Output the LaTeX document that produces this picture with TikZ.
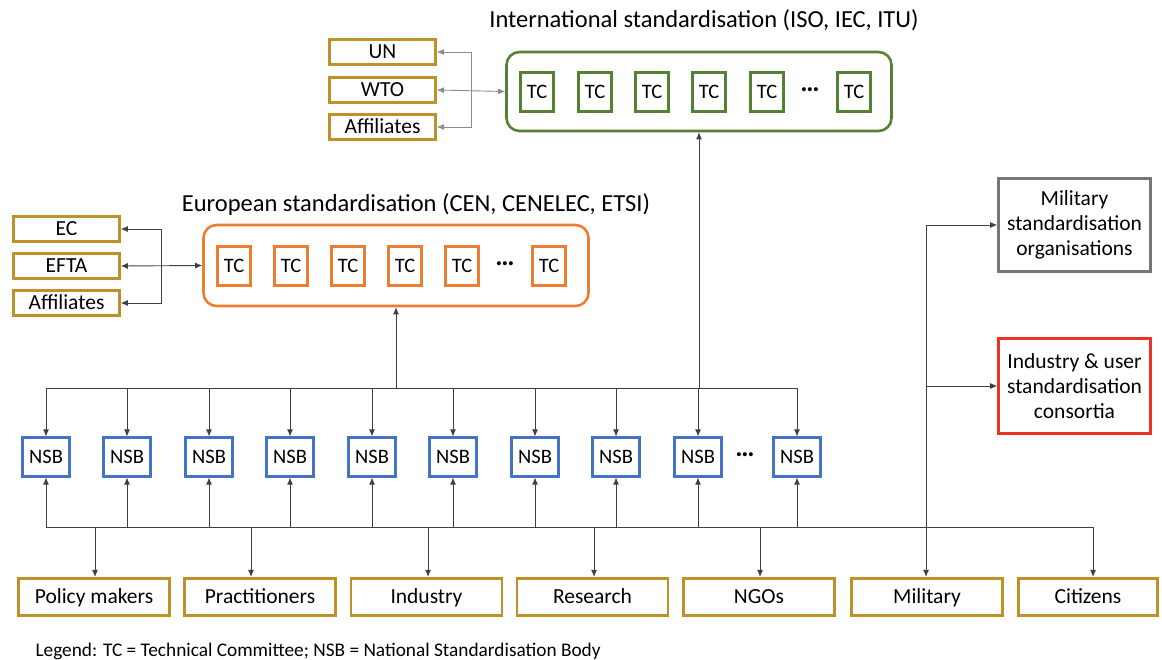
\documentclass[tikz,border=0pt]{standalone}
\usepackage{fontspec}
\setmainfont{Carlito}
\usetikzlibrary{arrows.meta}

\definecolor{stdgold}{RGB}{190,146,40}
\definecolor{stdgreen}{RGB}{84,130,53}
\definecolor{stdorange}{RGB}{237,125,49}
\definecolor{stdblue}{RGB}{68,114,196}
\definecolor{stdgrey}{RGB}{118,118,118}
\definecolor{stdred}{RGB}{235,51,36}

\begin{document}
\begin{tikzpicture}[x=1pt,y=-1pt,
    >={Latex[length=7pt,width=6pt]},
    link/.style={draw=black!75,line width=0.9pt},
    intlink/.style={draw=black!45,line width=0.9pt},
    title/.style={font=\fontsize{24.5}{28}\selectfont},
    boxtext/.style={text height=15.5pt,text depth=3pt,inner sep=0pt},
    bigbox/.style={draw=#1,line width=2.6pt,rounded corners=13pt,minimum width=385pt,minimum height=79pt},
    tcbox/.style={boxtext,draw=#1,line width=2.6pt,minimum width=33pt,minimum height=39.5pt,font=\fontsize{20.5}{24}\selectfont},
    nsbbox/.style={boxtext,draw=stdblue,line width=2.6pt,minimum width=47.5pt,minimum height=38.5pt,font=\fontsize{20.5}{24}\selectfont},
    goldbox/.style={boxtext,draw=stdgold,line width=2.6pt,minimum width=106pt,minimum height=25.5pt,font=\fontsize{21.5}{24}\selectfont},
    stakebox/.style={boxtext,draw=stdgold,line width=2.6pt,minimum width=151pt,minimum height=37.5pt,font=\fontsize{21.5}{24}\selectfont},
    sidebox/.style={draw=#1,line width=2.6pt,minimum width=152pt,minimum height=93pt,inner sep=0pt,align=center,font=\fontsize{21.5}{25}\selectfont},
    dots/.style={font=\fontsize{27}{30}\selectfont\bfseries}
  ]
  \useasboundingbox (0,0) rectangle (1162,660);

  % international level
  \node[title] (inttitle) at (704,20) {International standardisation (ISO, IEC, ITU)};
  \node[bigbox=stdgreen] (intl) at (699,91.5) {};
  \foreach \x [count=\i] in {537,595,652,709,767,854}
    \node[tcbox=stdgreen] (itc\i) at (\x,92) {TC};
  \node[dots] (idots) at (810,90) {…};

  \node[goldbox] (un) at (382.5,52) {UN};
  \node[goldbox] (wto) at (382.5,90) {WTO};
  \node[goldbox] (iaff) at (382.5,127) {Affiliates};
  \draw[intlink,<->] (wto.east) -- (intl.west);
  \draw[intlink,<->] (un.east) -- ++(35,0) |- (iaff.east);

  % european level
  \node[title] (eurtitle) at (416,205) {European standardisation (CEN, CENELEC, ETSI)};
  \node[bigbox=stdorange, minimum height=81pt] (eur) at (396,265.5) {};
  \foreach \x [count=\i] in {234,291,348,405,462,549}
    \node[tcbox=stdorange] (etc\i) at (\x,266) {TC};
  \node[dots] (edots) at (505,264) {…};

  \node[goldbox] (ec) at (66.5,229) {EC};
  \node[goldbox] (efta) at (66.5,266) {EFTA};
  \node[goldbox] (eaff) at (66.5,303) {Affiliates};
  \draw[link,<->] (efta.east) -- (eur.west);
  \draw[link,<->] (ec.east) -- ++(41,0) |- (eaff.east);

  % national standardisation bodies
  \foreach \x [count=\i] in {46,127,209,290,372,453,535,616,698,797}
    \node[nsbbox] (nsb\i) at (\x,457) {NSB};
  \node[dots] (ndots) at (745,455) {…};

  \coordinate (tb) at (396,388);
  \coordinate (bb) at (0,527);
  \draw[link] (nsb1 |- tb) -- (nsb10 |- tb);
  \foreach \i in {1,...,10} {
    \draw[link,->] (nsb\i |- tb) -- (nsb\i.north);
    \draw[link,->] (nsb\i |- bb) -- (nsb\i.south);
  }
  \draw[link,->] (tb) -- (eur.south);
  \draw[link,->] (intl |- tb) -- (intl.south);

  % stakeholders
  \foreach \x/\d/\t [count=\i] in {94/95/Policy makers,260/251/Practitioners,426.5/428/Industry,592.5/594/Research,759/760/NGOs,927/926/Military}{
    \node[stakebox] (sh\i) at (\x,597) {\t};
    \coordinate (d\i) at (\d,527);
    \draw[link,->] (d\i) -- (d\i |- sh\i.north);
  }
  \node[stakebox,minimum width=139pt] (sh7) at (1088,597) {Citizens};
  \coordinate (d7) at (1093,527);
  \draw[link,->] (d7) -- (d7 |- sh7.north);
  \draw[link] (nsb1 |- bb) -- (d7);

  % military and consortia
  \node[sidebox=stdgrey] (milorg) at (1074.5,225) {Military\\standardisation\\organisations};
  \node[sidebox=stdred, minimum height=95pt] (consort) at (1074.5,386) {Industry \& user\\standardisation\\consortia};
  \draw[link,->] (d6) |- (milorg.west);
  \draw[link,->] (d6 |- consort.west) -- (consort.west);

  \node[anchor=west,font=\fontsize{19.3}{22}\selectfont] (legend) at (32,651)
    {Legend: TC = Technical Committee; NSB = National Standardisation Body};
\end{tikzpicture}
\end{document}
